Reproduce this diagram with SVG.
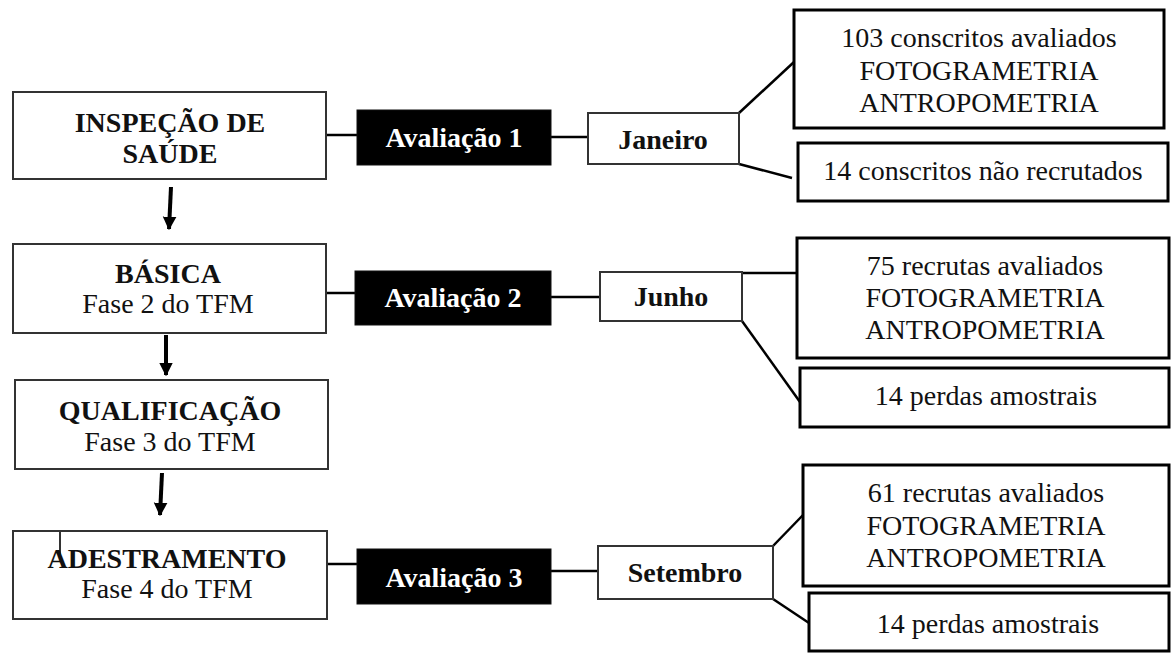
<svg xmlns="http://www.w3.org/2000/svg" width="1172" height="653" viewBox="0 0 1172 653">
<defs>
<style>
.stage{fill:#fff;stroke:#333;stroke-width:2}
.eval{fill:#000;stroke:#111;stroke-width:1}
.month{fill:#fff;stroke:#333;stroke-width:2}
.res{fill:#fff;stroke:#000;stroke-width:3}
.t{font-family:"Liberation Serif","Times New Roman",serif;font-size:28px;text-anchor:middle;fill:#111}
.b{font-weight:bold}
.w{fill:#fff;font-weight:bold}
.c{stroke:#000;stroke-width:2.5;fill:none}
.ar{stroke:#000;stroke-width:4;fill:none}
</style>
<marker id="ah" viewBox="0 0 10 10" refX="9" refY="5" markerWidth="3.4" markerHeight="4.2" orient="auto" markerUnits="strokeWidth">
<path d="M0,0 L10,5 L0,10 Z" fill="#000"/>
</marker>
</defs>
<rect width="1172" height="653" fill="#fff"/>

<g id="connectors">
<line class="c" x1="326" y1="135" x2="357" y2="135"/>
<line class="c" x1="551" y1="137" x2="588" y2="137"/>
<line class="c" x1="739" y1="113" x2="794" y2="62"/>
<line class="c" x1="739" y1="164" x2="792" y2="178"/>
<line class="c" x1="326" y1="293" x2="355" y2="293"/>
<line class="c" x1="551" y1="297" x2="600" y2="297"/>
<line class="c" x1="742" y1="273" x2="797" y2="273"/>
<line class="c" x1="742" y1="321" x2="800" y2="402"/>
<line class="c" x1="327" y1="564" x2="357" y2="564"/>
<line class="c" x1="551" y1="571" x2="598" y2="571"/>
<line class="c" x1="773" y1="546" x2="803" y2="515"/>
<line class="c" x1="773" y1="599" x2="809" y2="623"/>
<line class="ar" x1="171" y1="187" x2="169" y2="229" marker-end="url(#ah)"/>
<line class="ar" x1="166" y1="335" x2="166" y2="375" marker-end="url(#ah)"/>
<line class="ar" x1="162" y1="473" x2="160" y2="515" marker-end="url(#ah)"/>
</g>

<g id="n-inspecao">
<rect class="stage" x="13" y="92" width="313" height="87"/>
<text class="t b" x="170" y="132">INSPEÇÃO DE</text>
<text class="t b" x="170" y="163">SAÚDE</text>
</g>
<g id="n-basica">
<rect class="stage" x="13" y="244" width="313" height="89"/>
<text class="t b" x="168" y="283">BÁSICA</text>
<text class="t" x="168" y="313">Fase 2 do TFM</text>
</g>
<g id="n-qualificacao">
<rect class="stage" x="15" y="380" width="313" height="89"/>
<text class="t b" x="170" y="420">QUALIFICAÇÃO</text>
<text class="t" x="170" y="451">Fase 3 do TFM</text>
</g>
<g id="n-adestramento">
<rect class="stage" x="13" y="531" width="314" height="88"/>
<line x1="60" y1="531" x2="60" y2="557" stroke="#333" stroke-width="2"/>
<text class="t b" x="167" y="568">ADESTRAMENTO</text>
<text class="t" x="167" y="598">Fase 4 do TFM</text>
</g>

<g id="n-aval1">
<rect class="eval" x="357" y="110" width="194" height="55"/>
<text class="t w" x="454" y="147">Avaliação 1</text>
</g>
<g id="n-aval2">
<rect class="eval" x="355" y="271" width="196" height="54"/>
<text class="t w" x="453" y="307">Avaliação 2</text>
</g>
<g id="n-aval3">
<rect class="eval" x="357" y="549" width="194" height="55"/>
<text class="t w" x="454" y="587">Avaliação 3</text>
</g>

<g id="n-janeiro">
<rect class="month" x="588" y="113" width="151" height="51"/>
<text class="t b" x="663" y="149">Janeiro</text>
</g>
<g id="n-junho">
<rect class="month" x="600" y="272" width="142" height="49"/>
<text class="t b" x="671" y="306">Junho</text>
</g>
<g id="n-setembro">
<rect class="month" x="598" y="546" width="175" height="53"/>
<text class="t b" x="685" y="582">Setembro</text>
</g>

<g id="n-r1">
<rect class="res" x="794" y="10" width="370" height="118"/>
<text class="t" x="979" y="47">103 conscritos avaliados</text>
<text class="t" x="979" y="80">FOTOGRAMETRIA</text>
<text class="t" x="979" y="112">ANTROPOMETRIA</text>
</g>
<g id="n-r2">
<rect class="res" x="798" y="143" width="370" height="58"/>
<text class="t" x="983" y="180">14 conscritos não recrutados</text>
</g>
<g id="n-r3">
<rect class="res" x="797" y="238" width="372" height="120"/>
<text class="t" x="985" y="275">75 recrutas avaliados</text>
<text class="t" x="985" y="307">FOTOGRAMETRIA</text>
<text class="t" x="985" y="339">ANTROPOMETRIA</text>
</g>
<g id="n-r4">
<rect class="res" x="800" y="368" width="369" height="59"/>
<text class="t" x="986" y="405">14 perdas amostrais</text>
</g>
<g id="n-r5">
<rect class="res" x="803" y="465" width="366" height="121"/>
<text class="t" x="986" y="502">61 recrutas avaliados</text>
<text class="t" x="986" y="535">FOTOGRAMETRIA</text>
<text class="t" x="986" y="567">ANTROPOMETRIA</text>
</g>
<g id="n-r6">
<rect class="res" x="809" y="593" width="360" height="58"/>
<text class="t" x="988" y="633">14 perdas amostrais</text>
</g>
</svg>
